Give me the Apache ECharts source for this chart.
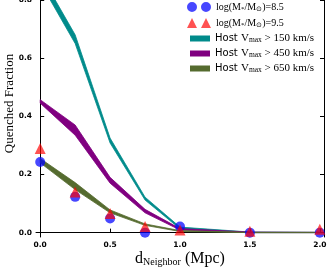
<!DOCTYPE html>
<html><head><meta charset="utf-8">
<script src="https://cdn.jsdelivr.net/npm/echarts@6/dist/echarts.min.js"></script>
<style>html,body{margin:0;padding:0;background:#fff}#c{width:332px;height:273px}</style>
</head><body><div id="c"></div>
<script>
// distances (Mpc)
const dist = [0, 0.25, 0.5, 0.75, 1.0, 1.5, 2.0];
// quenched fraction bands (upper / lower)
const tealUpper   = [0.89, 0.680, 0.325, 0.122, 0.019, 0.002, 0.001];
const tealLower   = [0.86, 0.650, 0.308, 0.112, 0.013, 0.000, 0.000];
const purpleUpper = [0.457, 0.370, 0.190, 0.080, 0.014, 0.002, 0.001];
const purpleLower = [0.445, 0.335, 0.170, 0.068, 0.009, 0.000, 0.000];
const oliveUpper  = [0.255, 0.172, 0.078, 0.030, 0.007, 0.001, 0.001];
const oliveLower  = [0.240, 0.148, 0.068, 0.025, 0.004, 0.000, 0.000];
// points
const circles   = [0.243, 0.123, 0.049, 0.0, 0.021, 0.0, 0.0];
const triangles = [0.289, 0.140, 0.066, 0.021, 0.009, 0.005, 0.012];
// ticks
const xTicks = [0, 0.5, 1.0, 1.5, 2.0];
const yTicks = [0, 0.2, 0.4, 0.6, 0.8];

const TEAL = '#008b8b', PURPLE = '#800080', OLIVE = '#556b2f';
const BLUE = 'rgba(0,0,255,0.72)', RED = 'rgba(255,0,0,0.68)';

function band(name, up, lo, color) {
  return {
    type: 'custom', name: name, coordinateSystem: 'cartesian2d', clip: true,
    itemStyle: { color: color },
    data: [[0, 0]],
    renderItem: function (params, api) {
      const pts = [];
      for (let i = 0; i < dist.length; i++) pts.push(api.coord([dist[i], up[i]]));
      for (let i = dist.length - 1; i >= 0; i--) pts.push(api.coord([dist[i], lo[i]]));
      return { type: 'polygon', shape: { points: pts },
        style: { fill: color, stroke: color, lineWidth: 0.8 } };
    }
  };
}

const serif = 'Liberation Serif';
const rich = {
  s: { fontFamily: serif, fontSize: 11, color: '#000' },
  sub: { fontFamily: serif, fontSize: 7.5, color: '#000', verticalAlign: 'bottom', padding: [4, 0, 0, 0] },
  h: { fontFamily: 'DejaVu Sans', fontSize: 10, color: '#000' }
};
const richLog = {
  s: { fontFamily: serif, fontSize: 10, color: '#000' },
  sub: { fontFamily: serif, fontSize: 7, color: '#000', verticalAlign: 'bottom', padding: [4, 0, 0, 0] }
};
function legendAt(name, top, icon, w, h, fmt, left, r) {
  return {
    data: [{ name: name, icon: icon }], orient: 'vertical', left: left, top: top,
    itemWidth: w, itemHeight: h, padding: 0, itemGap: 0,
    textStyle: { rich: r }, formatter: function () { return fmt; },
    selectedMode: false
  };
}
const twoCircles = 'path://M0,5A5,5,0,1,1,10,5A5,5,0,1,1,0,5ZM14,5A5,5,0,1,1,24,5A5,5,0,1,1,14,5Z';
const twoTris = 'path://M0,10L5,0L10,10ZM14,10L19,0L24,10Z';

const chart = echarts.init(document.getElementById('c'), null, { renderer: 'canvas' });
chart.setOption({
  animation: false,
  grid: { left: 36, right: 8, top: -30, bottom: 36, containLabel: false, outerBoundsMode: 'none' },
  xAxis: [{
    type: 'value', min: -0.03, max: 2.03,
    axisLine: { lineStyle: { color: '#000', width: 1 } },
    axisTick: { inside: true, length: 4, customValues: xTicks, lineStyle: { color: '#000' } },
    axisLabel: { customValues: xTicks, formatter: v => v.toFixed(1), fontFamily: 'DejaVu Sans',
      fontWeight: 'bold', fontSize: 7.5, color: '#000', margin: 4 },
    splitLine: { show: false },
    name: '{s|d}{sub|Neighbor}{s| (Mpc)}', nameLocation: 'middle', nameGap: 13, nameMoveOverlap: false,
    nameTextStyle: { rich: { s: { fontFamily: serif, fontSize: 16, color: '#000' },
      sub: { fontFamily: serif, fontSize: 10, color: '#000', verticalAlign: 'bottom', padding: [7, 0, 0, 0] } } }
  }],
  yAxis: [{
    type: 'value', min: -0.015, max: 0.9028,
    axisLine: { show: true, lineStyle: { color: '#000', width: 1 } },
    axisTick: { show: true, inside: true, length: 4, customValues: yTicks, lineStyle: { color: '#000' } },
    axisLabel: { customValues: yTicks, formatter: v => v.toFixed(1), fontFamily: 'DejaVu Sans',
      fontWeight: 'bold', fontSize: 7.5, color: '#000', margin: 4 },
    splitLine: { show: false },
    name: 'Quenched Fraction', nameLocation: 'middle', nameGap: 20, nameMoveOverlap: false,
    nameTextStyle: { fontFamily: serif, fontSize: 13, color: '#000' }
  }, {
    type: 'value', min: -0.015, max: 0.9028, position: 'right',
    axisLine: { show: true, lineStyle: { color: '#000', width: 1 } },
    axisTick: { show: true, inside: true, length: 4, customValues: yTicks, lineStyle: { color: '#000' } },
    axisLabel: { show: false }, splitLine: { show: false }
  }],
  legend: [
    legendAt('m85', 2, twoCircles, 24, 10,
      '{s|log(M}{sub|*}{s|/M}{sub|⊙}{s|)=8.5}', 187, richLog),
    legendAt('m95', 18, twoTris, 24, 10,
      '{s|log(M}{sub|*}{s|/M}{sub|⊙}{s|)=9.5}', 187, richLog),
    legendAt('v150', 33, 'rect', 20, 6, '{h|Host }{s|V}{sub|max}{s| > 150 km/s}', 190, rich),
    legendAt('v450', 48, 'rect', 20, 6, '{h|Host }{s|V}{sub|max}{s| > 450 km/s}', 190, rich),
    legendAt('v650', 63, 'rect', 20, 6, '{h|Host }{s|V}{sub|max}{s| > 650 km/s}', 190, rich)
  ],
  series: [
    band('v150', tealUpper, tealLower, TEAL),
    band('v450', purpleUpper, purpleLower, PURPLE),
    band('v650', oliveUpper, oliveLower, OLIVE),
    { type: 'scatter', name: 'm85', symbol: 'circle', symbolSize: 10, clip: false,
      itemStyle: { color: BLUE, opacity: 1 }, data: dist.map((d, i) => [d, circles[i]]) },
    { type: 'scatter', name: 'm95', symbol: 'triangle', symbolSize: 11, clip: false,
      itemStyle: { color: RED, opacity: 1 }, data: dist.map((d, i) => [d, triangles[i]]) }
  ]
});
</script></body></html>
